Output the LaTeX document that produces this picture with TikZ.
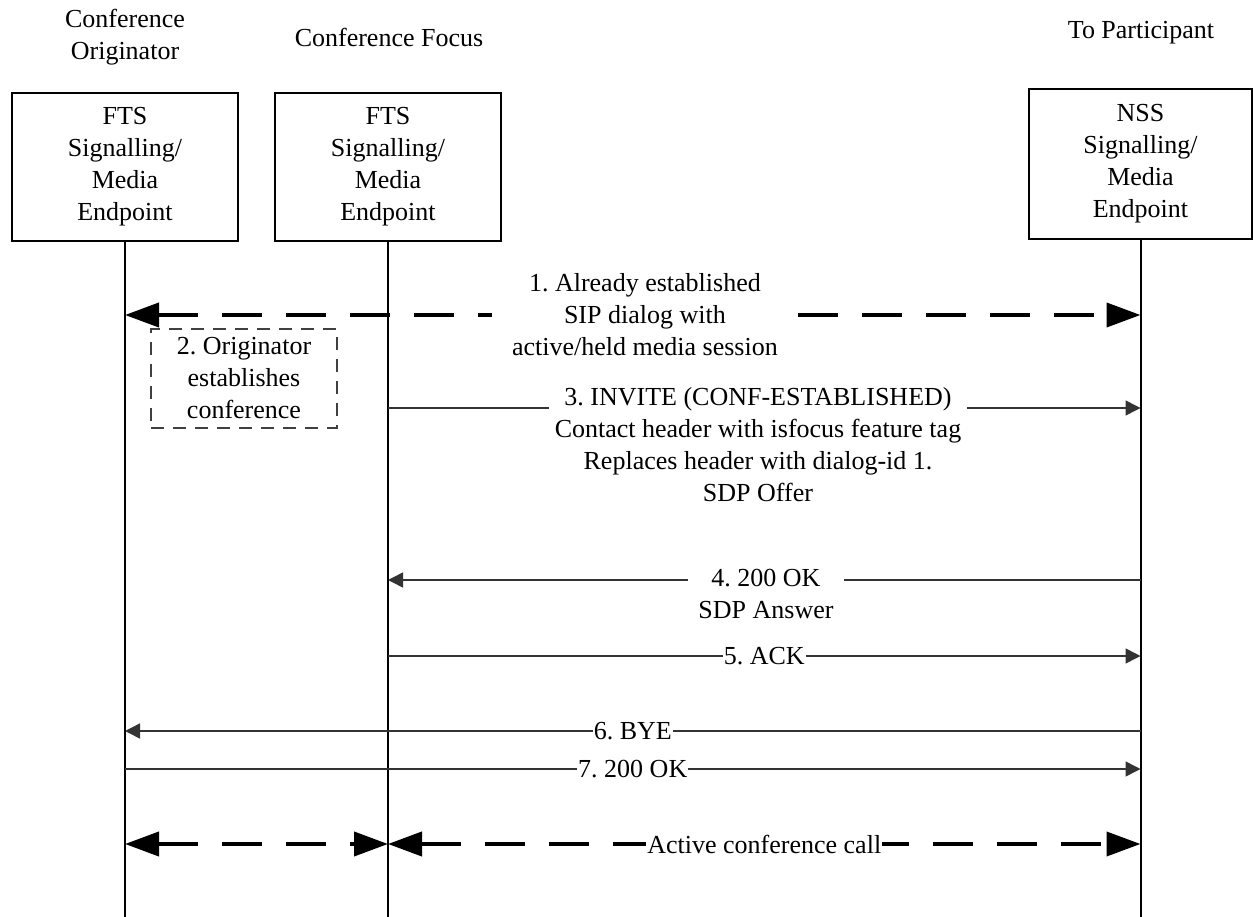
\documentclass[tikz,border=0pt]{standalone}
\usepackage{fontspec}
\setmainfont{Liberation Serif}
\usetikzlibrary{arrows.meta}
\frenchspacing
\begin{document}
\begin{tikzpicture}[x=1pt,y=-1pt,
  font=\fontsize{26}{32}\selectfont,
  lifebox/.style={draw, line width=1.8pt, minimum width=226pt, minimum height=148pt, align=center, inner sep=0pt},
  hdr/.style={align=center, inner sep=0pt},
  lifeline/.style={line width=2pt},
  msg/.style={line width=1.5pt, draw=black!80, -{Triangle[length=15pt,width=15pt]}},
  bigdash/.style={line width=4pt, dash pattern=on 40pt off 24pt},
  bothheads/.style={{Triangle[length=34pt,width=24pt]}-{Triangle[length=34pt,width=24pt]}},
  lbl/.style={fill=white, align=center, inner xsep=2pt, inner ysep=0pt},
  dashbox/.style={draw=black!75, line width=1.5pt, dash pattern=on 13pt off 9pt, align=center, minimum width=186pt, minimum height=99pt, inner sep=0pt}]
\useasboundingbox (0,0) rectangle (1253,917);

% headers
\node[hdr] (h1) at (125,37.5) {Conference\\Originator};
\node[hdr] (h2) at (389,37) {Conference Focus};
\node[hdr] (h3) at (1141,33) {To Participant};

% boxes
\node[lifebox] (b1) at (125,167) {FTS\\Signalling/\\Media\\Endpoint};
\node[lifebox] (b2) at (388,167) {FTS\\Signalling/\\Media\\Endpoint};
\node[lifebox, minimum width=223pt, minimum height=150pt] (b3) at (1140.5,164) {NSS\\Signalling/\\Media\\Endpoint};

% lifeline ends
\coordinate (e1) at (125,917);
\coordinate (e2) at (388,917);
\coordinate (e3) at (1140.5,917);
\draw[lifeline] (b1.south) -- (e1);
\draw[lifeline] (b2.south) -- (e2);
\draw[lifeline] (b3.south) -- (e3);

% message points
\coordinate (m1a) at (125,315);   \coordinate (m1b) at (1140.5,315);
\coordinate (m3a) at (388,408);   \coordinate (m3b) at (1140.5,408);
\coordinate (m4a) at (1140.5,580);\coordinate (m4b) at (388,580);
\coordinate (m5a) at (388,656);   \coordinate (m5b) at (1140.5,656);
\coordinate (m6a) at (1140.5,731);\coordinate (m6b) at (125,731);
\coordinate (m7a) at (125,769);   \coordinate (m7b) at (1140.5,769);
\coordinate (m8a) at (125,844);   \coordinate (m8b) at (388,844);
\coordinate (m9a) at (388,844);   \coordinate (m9b) at (1140.5,844);

% 1
\draw[bigdash, bothheads] (m1a) -- node[lbl, pos=0.512, inner xsep=20pt] (l1) {1. Already established\\SIP dialog with\\active/held media session} (m1b);

% 2
\node[dashbox] (n2) at (244,378.5) {2. Originator\\establishes\\conference};

% 3
\draw[msg] (m3a) -- (m3b);
\node[lbl, inner xsep=6pt] (l3) at (758,444.5) {3. INVITE (CONF-ESTABLISHED)\\Contact header with isfocus feature tag\\Replaces header with dialog-id 1.\\SDP Offer};

% 4
\draw[msg] (m4a) -- (m4b);
\node[lbl, inner xsep=10pt] (l4) at (766,594) {4. 200 OK\\SDP Answer};

% 5
\draw[msg] (m5a) -- node[lbl, inner xsep=1pt] (l5) {5. ACK} (m5b);

% 6
\draw[msg] (m6a) -- node[lbl, inner xsep=1pt] (l6) {6. BYE} (m6b);

% 7
\draw[msg] (m7a) -- node[lbl, inner xsep=1pt] (l7) {7. 200 OK} (m7b);

% 8, 9
\draw[bigdash, bothheads] (m8a) -- (m8b);
\draw[bigdash, bothheads] (m9a) -- node[lbl, inner xsep=1pt] (l9) {Active conference call} (m9b);
\end{tikzpicture}
\end{document}
